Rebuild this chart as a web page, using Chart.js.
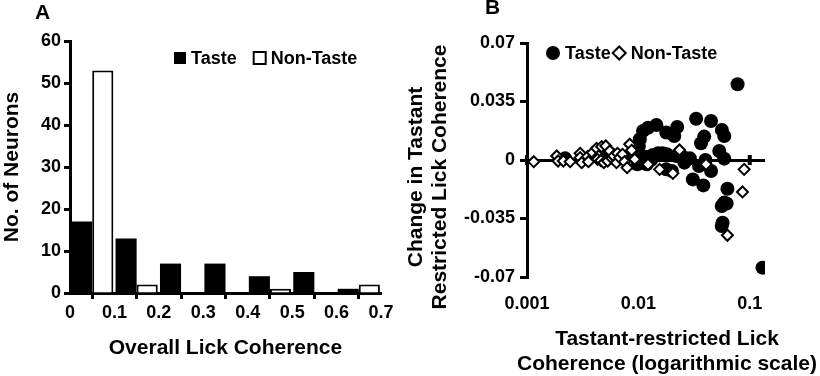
<!DOCTYPE html>
<html>
<head>
<meta charset="utf-8">
<script src="https://cdn.jsdelivr.net/npm/chart.js@4"></script>
<style>
  body { margin: 0; background: #fff; }
  #wrap { position: relative; width: 820px; height: 376px; font-family: "Liberation Sans", Arial, sans-serif; }
  canvas { position: absolute; top: 0; }
  #chartA { left: 0; }
  #chartB { left: 400px; }
  .tag { position: absolute; font-weight: bold; font-size: 21px; line-height: 24px; }
  .cap { position: absolute; font-weight: bold; font-size: 21px; text-align: center; white-space: nowrap; }
</style>
</head>
<body>
<div id="wrap">
  <canvas id="chartA" width="400" height="376"></canvas>
  <canvas id="chartB" width="420" height="376"></canvas>
  <div class="tag" style="left:35px;top:0px;">A</div>
  <div class="tag" style="left:485px;top:-5px;">B</div>
  <div class="cap" style="left:267px;top:153px;width:320px;line-height:24px;transform:rotate(-90deg);">Change in Tastant<br>Restricted Lick Coherence</div>
  <div class="cap" style="left:497px;top:325px;width:340px;line-height:25px;">Tastant-restricted Lick<br>Coherence (logarithmic scale)</div>
</div>
<script>
// panel A: histogram of overall lick coherence (bin centres, counts)
const binCenters = [0.05, 0.15, 0.25, 0.35, 0.45, 0.55, 0.65];
const tasteCounts = [17, 13, 7, 7, 4, 5, 1];
const nonTasteCounts = [53, 2, 0, 0, 1, 0, 2];
const xTicksA = [0, 0.1, 0.2, 0.3, 0.4, 0.5, 0.6, 0.7];

// panel B: tastant-restricted coherence vs change
const tasteX = [0.0022, 0.0055, 0.0062, 0.0075, 0.0098, 0.0098, 0.0101, 0.0103, 0.011, 0.0122,
  0.0145, 0.0119, 0.0115, 0.013, 0.0135, 0.015, 0.0165, 0.018, 0.0178, 0.021,
  0.0223, 0.022, 0.0178, 0.02, 0.025, 0.0259, 0.029, 0.033, 0.0449, 0.0562,
  0.059, 0.039, 0.0365, 0.0532, 0.059, 0.035, 0.04, 0.0449, 0.0308, 0.0383,
  0.063, 0.059, 0.056, 0.062, 0.057, 0.056, 0.0777, 0.13];
const tasteY = [0.001, 0.004, 0.002, 0.001, 0.004, -0.0026, 0.0084, 0.0124, 0.0174, 0.0193,
  0.0209, -0.0026, 0.002, 0.0, 0.003, 0.004, 0.004, 0.0035, 0.0164, 0.0144,
  0.0197, 0.0024, -0.0056, -0.0066, 0.002, -0.0016, 0.001, 0.0247, 0.0233, 0.018,
  0.0144, 0.014, 0.010, 0.0054, 0.0008, -0.0036, 0.0, -0.0066, -0.0116, -0.0152,
  -0.0172, -0.0255, -0.0275, -0.026, -0.0375, -0.0395, 0.0453, -0.0644];
const nonTasteX = [0.00115, 0.00185, 0.0019, 0.00212, 0.00244, 0.003, 0.003, 0.0031, 0.0035, 0.00356,
  0.00388, 0.00422, 0.0044, 0.0043, 0.0046, 0.00468, 0.0051, 0.0049, 0.0053, 0.00554,
  0.0058, 0.006, 0.00636, 0.0065, 0.0068, 0.0072, 0.0075, 0.00792, 0.00836, 0.0087,
  0.00927, 0.0122, 0.0155, 0.0204, 0.0234, 0.0405, 0.089, 0.086, 0.063];
const nonTasteY = [-0.001, 0.0024, -0.0006, -0.0006, -0.001, 0.004, 0.0014, -0.0016, 0.002, -0.001,
  0.0044, 0.007, 0.0024, 0.0004, -0.0003, 0.008, 0.0084, -0.0016, -0.0006, 0.0054,
  0.001, 0.0024, -0.0016, 0.004, 0.0014, 0.0034, -0.001, -0.0046, 0.0094, 0.0058,
  0.0004, -0.0026, -0.0056, -0.008, 0.006, -0.0026, -0.0056, -0.0191, -0.045];
const xTicksB = [0.001, 0.01, 0.1];
const yTicksB = [-0.07, -0.035, 0, 0.035, 0.07];

Chart.defaults.font.family = '"Liberation Sans", Arial, sans-serif';
Chart.defaults.font.weight = 'bold';
Chart.defaults.font.size = 18;
Chart.defaults.color = '#000';

const titleFont = {size: 21, weight: 'bold', lineHeight: 1.2};

// legend drawn inside the plot area (Chart.js legend can't sit there horizontally)
const insideLegend = {
  id: 'insideLegend',
  afterDraw(chart, args, opts) {
    const ctx = chart.ctx;
    const area = chart.chartArea;
    let x = area.left + opts.left;
    const y = area.top + opts.top;
    ctx.save();
    ctx.font = 'bold 18px "Liberation Sans", Arial, sans-serif';
    ctx.textBaseline = 'middle';
    chart.data.datasets.forEach((ds, i) => {
      const m = opts.markers[i];
      ctx.lineWidth = 2;
      ctx.strokeStyle = '#000';
      ctx.fillStyle = ds.backgroundColor;
      ctx.beginPath();
      if (m.shape === 'circle') {
        ctx.arc(x + m.size / 2, y, m.size / 2, 0, Math.PI * 2);
      } else if (m.shape === 'diamond') {
        const r = m.size / 2;
        ctx.moveTo(x + r, y - r);
        ctx.lineTo(x + 2 * r, y);
        ctx.lineTo(x + r, y + r);
        ctx.lineTo(x, y);
        ctx.closePath();
      } else {
        ctx.rect(x + 1, y - m.size / 2 + 1, m.size - 2, m.size - 2);
      }
      ctx.fill();
      if (ds.borderWidth) ctx.stroke();
      x += m.size + opts.textGap;
      ctx.fillStyle = '#000';
      ctx.fillText(ds.label, x, y + 1);
      x += ctx.measureText(ds.label).width + opts.itemGap;
    });
    ctx.restore();
  }
};

// small x tick marks on the zero line of panel B
const zeroTicks = {
  id: 'zeroTicks',
  beforeDatasetsDraw(chart) {
    const ctx = chart.ctx;
    const xs = chart.scales.x, ys = chart.scales.y;
    const py = ys.getPixelForValue(0);
    ctx.save();
    ctx.fillStyle = '#000';
    xs.ticks.forEach(t => {
      const px = xs.getPixelForValue(t.value);
      ctx.fillRect(px - 2, py - 5, 4, 10);
    });
    ctx.restore();
  }
};

new Chart(document.getElementById('chartA'), {
  type: 'bar',
  data: {
    datasets: [
      {
        label: 'Taste',
        data: binCenters.map((x, i) => ({x: x, y: tasteCounts[i]})),
        backgroundColor: '#000',
        borderWidth: 0
      },
      {
        label: 'Non-Taste',
        data: binCenters.map((x, i) => ({x: x, y: nonTasteCounts[i]})),
        backgroundColor: '#fff',
        borderColor: '#000',
        borderWidth: 2
      }
    ]
  },
  options: {
    responsive: false,
    animation: false,
    categoryPercentage: 0.95,
    barPercentage: 1,
    layout: {padding: {top: 41, right: 19, left: 0, bottom: 0}},
    plugins: {
      legend: {display: false},
      tooltip: {enabled: false},
      insideLegend: {
        left: 103, top: 17, textGap: 4, itemGap: 16,
        markers: [{shape: 'square', size: 14}, {shape: 'square', size: 14}]
      }
    },
    scales: {
      x: {
        type: 'linear',
        min: 0,
        max: 0.7,
        offset: false,
        afterBuildTicks: s => { s.ticks = xTicksA.map(v => ({value: v})); },
        afterFit: s => { s.height = 83; },
        ticks: {padding: 3, callback: v => String(v)},
        grid: {drawOnChartArea: false, tickLength: 6, tickWidth: 3, tickColor: '#000'},
        border: {color: '#000', width: 3},
        title: {display: true, text: 'Overall Lick Coherence', font: titleFont, padding: {top: 0, bottom: 15}}
      },
      y: {
        min: 0,
        max: 60,
        ticks: {stepSize: 10, padding: 3},
        afterFit: s => { s.width = 70; },
        grid: {drawOnChartArea: false, tickLength: 6, tickWidth: 3, tickColor: '#000'},
        border: {color: '#000', width: 3},
        title: {display: true, text: 'No. of Neurons', font: titleFont, padding: 0}
      }
    }
  },
  plugins: [insideLegend]
});

new Chart(document.getElementById('chartB'), {
  type: 'scatter',
  data: {
    datasets: [
      {
        label: 'Taste',
        data: tasteX.map((x, i) => ({x: x, y: tasteY[i]})),
        pointStyle: 'circle',
        pointRadius: 7,
        backgroundColor: '#000',
        borderColor: '#000',
        borderWidth: 0,
        order: 1
      },
      {
        label: 'Non-Taste',
        data: nonTasteX.map((x, i) => ({x: x, y: nonTasteY[i]})),
        pointStyle: 'rectRot',
        pointRadius: 5.5,
        backgroundColor: '#fff',
        borderColor: '#000',
        borderWidth: 2,
        order: 0
      }
    ]
  },
  options: {
    responsive: false,
    animation: false,
    layout: {padding: {top: 43, right: 55, left: 1, bottom: 0}},
    plugins: {
      legend: {display: false},
      tooltip: {enabled: false},
      insideLegend: {
        left: 19, top: 10, textGap: 5, itemGap: 2,
        markers: [{shape: 'circle', size: 14}, {shape: 'diamond', size: 13}]
      }
    },
    scales: {
      x: {
        type: 'logarithmic',
        min: 0.001,
        max: 0.137,
        afterBuildTicks: s => { s.ticks = xTicksB.map(v => ({value: v})); },
        afterFit: s => { s.height = 99; },
        ticks: {padding: 16, callback: v => String(v)},
        grid: {display: false, drawTicks: false},
        border: {display: false}
      },
      y: {
        min: -0.07,
        max: 0.07,
        afterBuildTicks: s => { s.ticks = yTicksB.map(v => ({value: v})); },
        afterFit: s => { s.width = 126; },
        ticks: {padding: 5, callback: v => String(v)},
        grid: {
          drawOnChartArea: true,
          color: c => (c.tick && c.tick.value === 0 ? '#000' : 'rgba(0,0,0,0)'),
          lineWidth: 3,
          tickLength: 7,
          tickWidth: 3,
          tickColor: '#000'
        },
        border: {color: '#000', width: 3}
      }
    }
  },
  plugins: [insideLegend, zeroTicks]
});
</script>
</body>
</html>
